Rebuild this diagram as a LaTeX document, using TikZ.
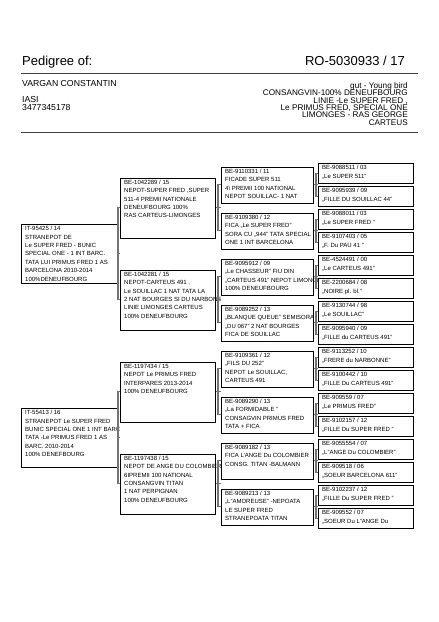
\documentclass[tikz,border=0pt]{standalone}
\usepackage{fontspec}
\setmainfont{Liberation Sans}
\usetikzlibrary{shadows}
\tikzset{
  head/.style={inner sep=0pt},
  rule/.style={draw=black!75, line width=1pt},
  pbox/.style={draw, fill=white, line width=0.7pt, anchor=north west, inner sep=0pt,
    drop shadow={shadow xshift=0.9pt, shadow yshift=-0.9pt, fill=black!40, opacity=1}},
  gen1/.style={pbox, minimum width=96pt, minimum height=59pt},
  gen2/.style={pbox, minimum width=95pt, minimum height=60pt},
  gen3/.style={pbox, minimum width=92pt, minimum height=36pt},
  gen4/.style={pbox, minimum width=95pt, minimum height=20pt},
  boxtext/.style={anchor=north west, align=left, inner xsep=4pt, inner ysep=2.2pt,
    font=\fontsize{6}{8.4}\selectfont},
  link/.style={draw=black!55, line width=1.1pt},
}

\begin{document}
\begin{tikzpicture}[x=1pt,y=-1pt]
\useasboundingbox (0,0) rectangle (439,622);
% header
\node[head, anchor=base west, font=\fontsize{13}{15}\selectfont] (title) at (22,65) {Pedigree of:};
\node[head, anchor=base east, font=\fontsize{13}{15}\selectfont] (ring) at (405,65) {RO-5030933 / 17};
\draw[rule] (21,73.5) -- (418,73.5);
\node[head, anchor=base west, font=\fontsize{8.7}{10}\selectfont] (owner) at (22,86) {VARGAN CONSTANTIN};
\node[head, anchor=base west, font=\fontsize{8.7}{10}\selectfont] (city) at (22,102.5) {IASI};
\node[head, anchor=base west, font=\fontsize{8.7}{10}\selectfont] (phone) at (22,110.5) {3477345178};
\node[head, anchor=north east, align=right, font=\fontsize{8.2}{7.45}\selectfont] (info) at (408,82)
  {gut - Young bird\\CONSANGVIN-100\% DENEUFBOURG\\LINIE -Le SUPER FRED ,\\Le PRIMUS FRED, SPECIAL ONE\\LIMONGES - RAS GEORGE\\CARTEUS};
\draw[rule] (21,132) -- (418,132);

% parents
\node[gen1] (f) at (21,224) {};
\node[boxtext] (f-t) at (f.north west) {IT-95425 / 14\\STRANEPOT DE\\Le SUPER FRED - BUNIC\\SPECIAL ONE - 1 INT BARC.\\TATA LUI PRIMUS FRED 1 AS\\BARCELONA 2010-2014\\100\%DENEUFBOURG};
\node[gen1] (m) at (21,408) {};
\node[boxtext] (m-t) at (m.north west) {IT-55413 / 16\\STRANEPOT Le SUPER FRED\\BUNIC SPECIAL ONE 1 INT BARC\\TATA -Le PRIMUS FRED 1 AS\\BARC. 2010-2014\\100\% DENEFBOURG};

% grandparents
\node[gen2] (ff) at (120,177.5) {};
\node[boxtext] (ff-t) at (ff.north west) {BE-1042289 / 15\\NEPOT-SUPER FRED ,SUPER\\511-4 PREMII NATIONALE\\DENEUFBOURG 100\%\\RAS CARTEUS-LIMONGES};
\node[gen2] (fm) at (120,269.5) {};
\node[boxtext] (fm-t) at (fm.north west) {BE-1042281 / 15\\NEPOT-CARTEUS 491 ,\\Le SOUILLAC 1 NAT TATA LA\\2 NAT BOURGES SI DU NARBONE\\LINIE LIMONGES CARTEUS\\100\% DENEUFBOURG};
\node[gen2] (mf) at (120,361.5) {};
\node[boxtext] (mf-t) at (mf.north west) {BE-1197434 / 15\\NEPOT Le PRIMUS FRED\\INTERPARES 2013-2014\\100\% DENEUFBOURG};
\node[gen2] (mm) at (120,453.5) {};
\node[boxtext] (mm-t) at (mm.north west) {BE-1197438 / 15\\NEPOT DE ANGE DU COLOMBIER\\6IPREMII 100 NATIONAL\\CONSANGVIN TITAN\\1 NAT PERPIGNAN\\100\% DENEUFBOURG};

% great-grandparents
\node[gen3] (fff) at (221,166.5) {};
\node[boxtext] (fff-t) at (fff.north west) {BE-9110331 / 11\\FICADE SUPER 511\\4\textbackslash{} PREMII 100 NATIONAL\\NEPOT SOUILLAC- 1 NAT};
\node[gen3] (ffm) at (221,212.5) {};
\node[boxtext] (ffm-t) at (ffm.north west) {BE-9109380 / 12\\FICA „Le SUPER FRED"\\SORA CU „944" TATA SPECIAL\\ONE 1 INT BARCELONA};
\node[gen3] (fmf) at (221,258.5) {};
\node[boxtext] (fmf-t) at (fmf.north west) {BE-9095912 / 09\\„Le CHASSEUR" FIU DIN\\„CARTEUS 491" NEPOT LIMONGES\\100\% DENEUFBOURG};
\node[gen3] (fmm) at (221,304.5) {};
\node[boxtext] (fmm-t) at (fmm.north west) {BE-9089252 / 13\\„BLANQUE QUEUE" SEMISORA\\„DU 067" 2 NAT BOURGES\\FICA DE SOUILLAC};
\node[gen3] (mff) at (221,350.5) {};
\node[boxtext] (mff-t) at (mff.north west) {BE-9109361 / 12\\„FILS DU 252"\\NEPOT Le SOUILLAC,\\CARTEUS 491};
\node[gen3] (mfm) at (221,396.5) {};
\node[boxtext] (mfm-t) at (mfm.north west) {BE-9089290 / 13\\„La FORMIDABLE "\\CONSAGVIN PRIMUS FRED\\TATA + FICA};
\node[gen3] (mmf) at (221,442.5) {};
\node[boxtext] (mmf-t) at (mmf.north west) {BE-9089182 / 13\\FICA L'ANGE Du COLOMBIER\\CONSG. TITAN -BALMANN};
\node[gen3] (mmm) at (221,488.5) {};
\node[boxtext] (mmm-t) at (mmm.north west) {BE-9089213 / 13\\„L"AMOREUSE" -NEPOATA\\LE SUPER FRED\\STRANEPOATA TITAN};

% great-great-grandparents
\node[gen4] (ffff) at (318,163) {};
\node[boxtext] (ffff-t) at (ffff.north west) {BE-9088511 / 03\\„Le SUPER 511"};
\node[gen4] (fffm) at (318,186) {};
\node[boxtext] (fffm-t) at (fffm.north west) {BE-9095939 / 09\\„FILLE DU SOUILLAC 44"};
\node[gen4] (ffmf) at (318,209) {};
\node[boxtext] (ffmf-t) at (ffmf.north west) {BE-9088011 / 03\\„Le SUPER FRED "};
\node[gen4] (ffmm) at (318,232) {};
\node[boxtext] (ffmm-t) at (ffmm.north west) {BE-9107403 / 05\\„F. Du PAU 41 "};
\node[gen4] (fmff) at (318,255) {};
\node[boxtext] (fmff-t) at (fmff.north west) {BE-4524491 / 00\\„Le CARTEUS 491"};
\node[gen4] (fmfm) at (318,278) {};
\node[boxtext] (fmfm-t) at (fmfm.north west) {BE-2200684 / 08\\„NOIRE pl. bl."};
\node[gen4] (fmmf) at (318,301) {};
\node[boxtext] (fmmf-t) at (fmmf.north west) {BE-9130744 / 98\\„Le SOUILLAC"};
\node[gen4] (fmmm) at (318,324) {};
\node[boxtext] (fmmm-t) at (fmmm.north west) {BE-9095940 / 09\\„FILLE du CARTEUS 491"};
\node[gen4] (mfff) at (318,347) {};
\node[boxtext] (mfff-t) at (mfff.north west) {BE-9113252 / 10\\„FRERE du NARBONNE"};
\node[gen4] (mffm) at (318,370) {};
\node[boxtext] (mffm-t) at (mffm.north west) {BE-9100442 / 10\\„FILLE Du CARTEUS 491"};
\node[gen4] (mfmf) at (318,393) {};
\node[boxtext] (mfmf-t) at (mfmf.north west) {BE-909559 / 07\\„Le PRIMUS FRED"};
\node[gen4] (mfmm) at (318,416) {};
\node[boxtext] (mfmm-t) at (mfmm.north west) {BE-9102157 / 12\\„FILLE Du SUPER FRED "};
\node[gen4] (mmff) at (318,439) {};
\node[boxtext] (mmff-t) at (mmff.north west) {BE-9055554 / 07\\„L"ANGE Du COLOMBIER"};
\node[gen4] (mmfm) at (318,462) {};
\node[boxtext] (mmfm-t) at (mmfm.north west) {BE-909518 / 06\\„SOEUR BARCELONA 611"};
\node[gen4] (mmmf) at (318,485) {};
\node[boxtext] (mmmf-t) at (mmmf.north west) {BE-9102237 / 12\\„FILLE Du SUPER FRED "};
\node[gen4] (mmmm) at (318,508) {};
\node[boxtext] (mmmm-t) at (mmmm.north west) {BE-909552 / 07\\„SOEUR Du L"ANGE Du};

% brackets
\draw[link] (ff.west) -- ++(-2,0) |- (fm.west); \draw[link] (f.east) -- (f.east -| ff.west);
\draw[link] (mf.west) -- ++(-2,0) |- (mm.west); \draw[link] (m.east) -- (m.east -| mf.west);
\draw[link] (fff.west) -- ++(-3,0) |- (ffm.west); \draw[link] (ff.east) -- (ff.east -| fff.west);
\draw[link] (fmf.west) -- ++(-3,0) |- (fmm.west); \draw[link] (fm.east) -- (fm.east -| fmf.west);
\draw[link] (mff.west) -- ++(-3,0) |- (mfm.west); \draw[link] (mf.east) -- (mf.east -| mff.west);
\draw[link] (mmf.west) -- ++(-3,0) |- (mmm.west); \draw[link] (mm.east) -- (mm.east -| mmf.west);
\draw[link] (ffff.west) -- ++(-2,0) |- (fffm.west); \draw[link] (fff.east) -- (fff.east -| ffff.west);
\draw[link] (ffmf.west) -- ++(-2,0) |- (ffmm.west); \draw[link] (ffm.east) -- (ffm.east -| ffmf.west);
\draw[link] (fmff.west) -- ++(-2,0) |- (fmfm.west); \draw[link] (fmf.east) -- (fmf.east -| fmff.west);
\draw[link] (fmmf.west) -- ++(-2,0) |- (fmmm.west); \draw[link] (fmm.east) -- (fmm.east -| fmmf.west);
\draw[link] (mfff.west) -- ++(-2,0) |- (mffm.west); \draw[link] (mff.east) -- (mff.east -| mfff.west);
\draw[link] (mfmf.west) -- ++(-2,0) |- (mfmm.west); \draw[link] (mfm.east) -- (mfm.east -| mfmf.west);
\draw[link] (mmff.west) -- ++(-2,0) |- (mmfm.west); \draw[link] (mmf.east) -- (mmf.east -| mmff.west);
\draw[link] (mmmf.west) -- ++(-2,0) |- (mmmm.west); \draw[link] (mmm.east) -- (mmm.east -| mmmf.west);
\end{tikzpicture}
\end{document}
